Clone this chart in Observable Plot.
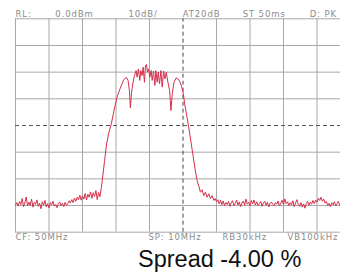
<!DOCTYPE html>
<html>
<head>
<meta charset="utf-8">
<script src="https://cdn.jsdelivr.net/npm/d3@7"></script>
<script src="https://cdn.jsdelivr.net/npm/@observablehq/plot@0.6"></script>
<style>
  html, body { margin: 0; padding: 0; background: #fff; }
  #chart svg { display: block; }
  #caption { font-family: "Liberation Sans", Arial, sans-serif; font-size: 23.5px; color: #111; margin-left: 138px; line-height: 27px; margin-top: 1px; white-space: nowrap; }
</style>
</head>
<body>
<div id="chart"></div>
<div id="caption">Spread -4.00 %</div>
<script>
// Graticule (frequency in MHz, level in dBm)
const gridFreqs = [45, 46, 47, 48, 49, 51, 52, 53, 54, 55];
const centerFreq = [50];
const gridLevels = [0, -10, -20, -30, -50, -60, -70, -80];
const refLevelLine = [-40];

// Header / footer annotations
const headerLabels = ["RL:", "0.0dBm", "10dB/", "AT20dB", "ST 50ms", "D: PK"];
const headerFreqs = [45.0, 46.19, 48.37, 49.99, 51.78, 53.78];
const footerLabels = ["CF: 50MHz", "SP: 10MHz", "RB30kHz", "VB100kHz"];
const footerFreqs = [45.0, 48.97, 51.18, 53.12];

// Trace: frequency (MHz) and level (dBm)
const traceFreq = [
  45.00,45.04,45.08,45.12,45.16,45.20,45.24,45.28,45.32,45.36,45.40,45.44,45.48,45.52,45.56,45.60,45.64,45.68,45.72,45.76,
  45.80,45.84,45.88,45.92,45.96,46.00,46.04,46.08,46.12,46.16,46.20,46.24,46.28,46.32,46.36,46.40,46.44,46.48,46.52,46.56,
  46.60,46.64,46.68,46.72,46.76,46.80,46.84,46.88,46.92,46.96,47.00,47.04,47.08,47.12,47.16,47.20,47.24,47.28,47.32,47.36,
  47.40,47.44,47.48,47.52,47.56,47.59,47.66,47.72,47.79,47.86,47.94,48.03,48.13,48.23,48.31,48.36,48.40,48.43,48.46,48.50,
  48.55,48.60,48.63,48.67,48.71,48.74,48.78,48.81,48.85,48.88,48.91,48.94,48.97,49.01,49.05,49.08,49.12,49.16,49.19,49.23,
  49.26,49.30,49.34,49.38,49.42,49.46,49.50,49.55,49.60,49.64,49.68,49.73,49.80,49.88,49.95,50.01,50.05,50.12,50.18,50.24,
  50.30,50.36,50.42,50.48,50.52,50.57,50.62,50.67,50.72,50.77,50.82,50.87,50.92,50.96,51.00,51.04,51.08,51.12,51.16,51.20,
  51.24,51.28,51.32,51.36,51.40,51.44,51.48,51.52,51.56,51.60,51.64,51.68,51.72,51.76,51.80,51.84,51.88,51.92,51.96,52.00,
  52.04,52.08,52.12,52.16,52.20,52.24,52.28,52.32,52.36,52.40,52.44,52.48,52.52,52.56,52.60,52.64,52.68,52.72,52.76,52.80,
  52.84,52.88,52.92,52.96,53.00,53.04,53.08,53.12,53.16,53.20,53.24,53.28,53.32,53.36,53.40,53.44,53.48,53.52,53.56,53.60,
  53.64,53.68,53.72,53.76,53.80,53.84,53.88,53.92,53.96,54.00,54.04,54.08,54.12,54.16,54.20,54.24,54.28,54.32,54.36,54.40,
  54.44,54.48,54.52,54.56,54.60,54.64,54.68,54.72,54.76,54.80,54.84,54.88,54.92,54.96,55.00
];
const traceLevel = [
  -69.8,-68.9,-70.2,-68.5,-69.6,-67.4,-70.4,-69.0,-66.8,-70.1,-68.7,-69.9,-67.6,-70.6,-68.8,-69.5,-67.9,-70.3,-69.1,-71.2,
  -68.6,-69.8,-68.1,-70.5,-69.3,-70.9,-68.9,-69.7,-68.4,-70.2,-69.6,-70.8,-69.2,-68.7,-70.0,-69.1,-70.4,-68.8,-69.9,-69.3,
  -68.2,-69.0,-67.8,-68.9,-67.2,-68.4,-66.9,-67.9,-66.1,-68.0,-66.4,-67.6,-65.5,-67.9,-65.8,-66.9,-64.9,-67.3,-65.2,-66.6,
  -64.4,-67.8,-65.1,-66.7,-63.5,-60.6,-53.1,-46.9,-42.5,-39.4,-34.4,-29.4,-25.9,-22.8,-22.0,-23.1,-26.9,-33.4,-28.1,-24.4,
  -21.3,-19.4,-21.9,-18.8,-23.1,-19.4,-21.3,-18.1,-23.8,-17.5,-17.1,-20.0,-18.8,-21.9,-19.4,-23.1,-19.6,-25.0,-19.4,-23.8,
  -20.0,-24.4,-19.4,-25.6,-19.6,-22.5,-20.0,-23.8,-26.9,-34.4,-28.1,-23.8,-22.1,-22.9,-25.0,-28.1,-31.9,-36.9,-41.3,-46.3,
  -51.3,-56.3,-60.6,-63.1,-65.0,-64.1,-66.3,-65.0,-66.9,-65.6,-67.5,-66.3,-68.1,-67.4,-68.6,-67.8,-69.4,-68.0,-69.7,-68.3,
  -70.1,-68.9,-69.6,-68.4,-70.3,-69.0,-68.2,-70.0,-69.2,-67.9,-69.8,-68.7,-70.4,-69.1,-68.3,-69.9,-67.6,-69.5,-68.8,-70.2,
  -68.1,-69.4,-67.9,-69.8,-68.6,-70.0,-69.3,-68.5,-70.3,-69.0,-68.4,-69.9,-68.8,-70.5,-69.2,-68.7,-69.6,-70.1,-68.9,-69.5,
  -68.3,-70.2,-69.1,-68.0,-69.7,-67.5,-69.3,-68.6,-70.0,-68.9,-69.8,-68.2,-70.4,-69.0,-67.8,-69.6,-70.3,-68.9,-70.6,-69.4,
  -71.0,-69.2,-68.4,-69.9,-68.7,-69.5,-68.1,-69.3,-68.0,-68.8,-67.2,-68.1,-66.9,-68.4,-67.6,-69.1,-68.5,-70.0,-69.2,-70.4,
  -69.0,-69.7,-68.6,-70.1,-69.3,-68.4,-70.0,-69.1,-70.3,-68.9,-69.6,-68.5,-70.2,-69.4,-69.8
];

const trace = traceFreq.map((f, i) => ({f, dbm: traceLevel[i]}));

const textStyle = {fontFamily: "DejaVu Sans, sans-serif", fontSize: 8.5, fill: "#8c8c8c", textAnchor: "start"};

const chart = Plot.plot({
  width: 340,
  height: 245,
  marginTop: 18.3,
  marginBottom: 13.3,
  marginLeft: 15,
  marginRight: 0,
  x: {domain: [45, 55], range: [15, 350], axis: null},
  y: {domain: [-80, 0], range: [231.7, 18.3], axis: null},
  marks: [
    Plot.ruleX(gridFreqs, {x: d => d, y1: -80, y2: 0, stroke: "#a8a8a8", strokeWidth: 1}),
    Plot.ruleY(gridLevels, {y: d => d, x1: 45, x2: 55, stroke: "#a8a8a8", strokeWidth: 1}),
    Plot.ruleX(centerFreq, {x: d => d, y1: -80, y2: 0, stroke: "#444", strokeWidth: 1, strokeDasharray: "4,3"}),
    Plot.ruleY(refLevelLine, {y: d => d, x1: 45, x2: 55, stroke: "#555", strokeWidth: 1, strokeDasharray: "4,3"}),
    Plot.line(trace, {x: "f", y: "dbm", stroke: "#d62f4a", strokeWidth: 1}),
    Plot.text(headerLabels, {x: (d, i) => headerFreqs[i], frameAnchor: "top", dy: -8, ...textStyle}),
    Plot.text(footerLabels, {x: (d, i) => footerFreqs[i], frameAnchor: "bottom", dy: 7.5, ...textStyle})
  ]
});
chart.querySelectorAll("text").forEach(t => t.setAttribute("letter-spacing", "0.9"));
document.getElementById("chart").append(chart);
</script>
</body>
</html>
